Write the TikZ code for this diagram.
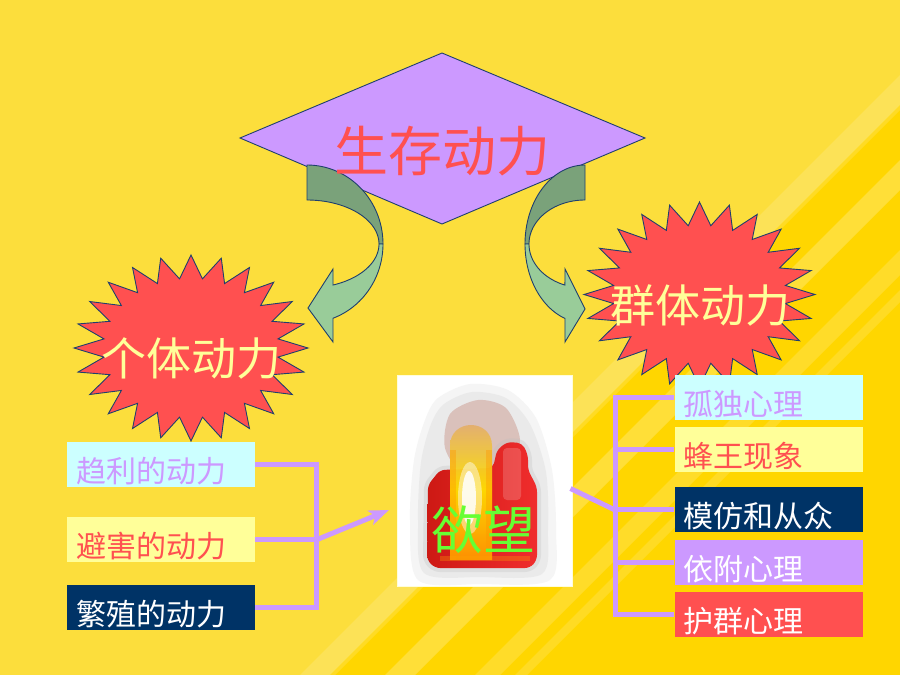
\documentclass[tikz,border=0pt]{standalone}
\usepackage{fontspec}
\newfontfamily\cjk{Noto Sans CJK SC}
\usetikzlibrary{arrows.meta,calc}
\definecolor{bgA}{RGB}{252,222,60}
\definecolor{bgB}{RGB}{255,214,0}
\definecolor{lav}{RGB}{204,153,255}
\definecolor{coral}{RGB}{255,80,80}
\definecolor{paleY}{RGB}{255,255,153}
\definecolor{paleC}{RGB}{204,255,255}
\definecolor{navy}{RGB}{0,51,102}
\definecolor{darkG}{RGB}{122,162,122}
\definecolor{lightG}{RGB}{153,204,153}
\definecolor{edge}{RGB}{31,63,110}
\definecolor{fireG}{RGB}{102,255,51}
\definecolor{redL}{RGB}{205,25,20}
\definecolor{redR}{RGB}{240,45,45}
\definecolor{smokeP}{RGB}{205,160,150}
\definecolor{tanF}{RGB}{225,170,120}
\definecolor{flameO}{RGB}{255,150,0}
\definecolor{flameY}{RGB}{255,225,0}
\begin{document}
\begin{tikzpicture}[x=1pt,y=-1pt,
  outl/.style={draw=edge,line width=0.9pt,line join=miter},
  box/.style={rectangle, minimum width=188pt, minimum height=45pt, inner xsep=9pt, inner ysep=0pt,
    text width=170pt, align=left, font=\cjk\fontsize{30}{30}\selectfont, text height=37pt, text depth=2pt},
  conn/.style={draw=lav, line width=5pt},
  starlabel/.style={font=\cjk\fontsize{45}{45}\selectfont, text=paleY}]
\useasboundingbox (0,0) rectangle (900,675);
% background
\fill[bgA] (0,0) rectangle (900,675);
\fill[bgB] (330,675) -- (900,105) -- (900,675) -- cycle;
\fill[white,opacity=0.14] (975,0) -- (1010,0) -- (335,675) -- (300,675) -- cycle;
\fill[white,opacity=0.22] (1060,0) -- (1090,0) -- (415,675) -- (385,675) -- cycle;
\fill[white,opacity=0.16] (1150,0) -- (1175,0) -- (500,675) -- (475,675) -- cycle;
\fill[white,opacity=0.14] (1190,0) -- (1202,0) -- (527,675) -- (515,675) -- cycle;
% diamond
\draw[outl, fill=lav] (442,53) -- (645,138) -- (442,224) -- (240,138) -- cycle;
% left curved arrow
\draw[outl, fill=darkG] plot[domain=-90:0, samples=40] ({307+76*cos(\x)},{244+79*sin(\x)})
  -- plot[domain=0:-90, samples=40] ({307+72*cos(\x)},{244+44*sin(\x)}) -- cycle;
\draw[outl, fill=lightG] plot[domain=0:70, samples=40] ({307+76*cos(\x)},{244+79*sin(\x)})
  -- (333,342) -- (308,308) -- (333,269)
  -- plot[domain=68.8:0, samples=40] ({307+72*cos(\x)},{244+44*sin(\x)}) -- cycle;
% right curved arrow
\draw[outl, fill=darkG] plot[domain=-90:0, samples=40] ({585-60*cos(\x)},{244+79*sin(\x)})
  -- plot[domain=0:-90, samples=40] ({585-56*cos(\x)},{244+44*sin(\x)}) -- cycle;
\draw[outl, fill=lightG] plot[domain=0:70.5, samples=40] ({585-60*cos(\x)},{244+79*sin(\x)})
  -- (565,342) -- (585,309) -- (565,269)
  -- plot[domain=69:0, samples=40] ({585-56*cos(\x)},{244+44*sin(\x)}) -- cycle;
\node[font=\cjk\fontsize{54}{54}\selectfont, text=coral] (top) at (442,151) {生存动力};
% stars
\draw[outl, fill=coral] plot[samples at={0,...,47}, variable=\k]
  ({191+117*(1-0.25*mod(\k,2))*cos(90+7.5*\k)},{348-93*(1-0.25*mod(\k,2))*sin(90+7.5*\k)}) -- cycle;
\node[starlabel] (indiv) at (191,358) {个体动力};
\draw[outl, fill=coral] plot[samples at={0,...,47}, variable=\k]
  ({699.5+115.5*(1-0.25*mod(\k,2))*cos(90+7.5*\k)},{294.5-92.5*(1-0.25*mod(\k,2))*sin(90+7.5*\k)}) -- cycle;
\node[starlabel] (group) at (700,305) {群体动力};
% fire picture
\node[fill=white, draw=white!85!yellow, line width=1pt, minimum width=175pt, minimum height=211pt, inner sep=0pt] (fire) at (484.5,480.5) {};
\begin{scope}
\clip (398,376) rectangle (571,585);
% fuzzy smoke halo
\fill[gray!35, opacity=0.22] plot[smooth cycle] coordinates {(438,398) (470,384) (508,390) (536,418) (552,470) (556,530) (550,580) (480,584) (418,580) (410,520) (414,460) (425,420)};
\fill[gray!40, opacity=0.25] plot[smooth cycle] coordinates {(444,404) (472,392) (506,398) (530,424) (546,472) (548,530) (542,574) (480,577) (424,573) (418,520) (421,462) (431,424)};
\fill[smokeP, opacity=0.55] plot[smooth cycle] coordinates {(450,414) (478,400) (506,408) (520,440) (508,468) (465,474) (445,448)};
% red body
\draw[gray!50, opacity=0.3, line width=8pt, rounded corners=5pt] (428,485) -- (440,470) -- (493,468) -- (497,450) -- (507,442) -- (522,443) -- (528,455) -- (528,470) -- (537,487) -- (537,560) -- (530,568) -- (435,568) -- (427,560) -- cycle;
\shade[left color=redL, right color=redR, rounded corners=5pt] (428,485) -- (440,470) -- (493,468) -- (497,450) -- (507,442) -- (522,443) -- (528,455) -- (528,470) -- (537,487) -- (537,560) -- (530,568) -- (435,568) -- (427,560) -- cycle;
\fill[white, opacity=0.18, rounded corners=4pt] (503,448) rectangle (521,500);
% flame column
\shade[top color=tanF, bottom color=flameO, middle color=flameY, opacity=0.95] (450,560) -- (450,446) .. controls (450,418) and (492,418) .. (492,446) -- (492,560) -- cycle;
\fill[flameO, opacity=0.4] (450,450) rectangle (456,560);
\fill[flameO, opacity=0.4] (486,450) rectangle (492,560);
\fill[white, opacity=0.45] (470,498) ellipse [x radius=12, y radius=36];
\fill[white, opacity=0.85] (469,498) ellipse [x radius=7, y radius=27];
\fill[orange!70!yellow, opacity=0.3] (440,556) rectangle (530,561);
\end{scope}
\node[font=\cjk\fontsize{52}{52}\selectfont, text=fireG] (want) at (483,530) {欲望};
% left boxes
\node[box, fill=paleC, text=lav] (l1) at (161,464.5) {趋利的动力};
\node[box, fill=paleY, text=coral] (l2) at (161,539.5) {避害的动力};
\node[box, fill=navy, text=white] (l3) at (161,607.5) {繁殖的动力};
% right boxes
\node[box, fill=paleC, text=lav] (r1) at (768.5,397.5) {孤独心理};
\node[box, fill=paleY, text=coral] (r2) at (768.5,449.5) {蜂王现象};
\node[box, fill=navy, text=white] (r3) at (768.5,509.5) {模仿和从众};
\node[box, fill=lav, text=white] (r4) at (768.5,562.5) {依附心理};
\node[box, fill=coral, text=white] (r5) at (768.5,614.5) {护群心理};
% connectors left
\coordinate (lj) at (316,540);
\coordinate (ftip) at (389,510);
\draw[conn] (l1.east) -| (lj);
\draw[conn] (l3.east) -| (lj);
\draw[conn] (l2.east) -- (l2.east -| lj);
\draw[conn, -{Stealth[length=20pt,width=15pt,inset=5pt]}] (lj) -- (ftip);
% connectors right
\coordinate (rj) at (615,510);
\draw[conn] (r1.west) -| (rj);
\draw[conn] (r5.west) -| (rj);
\draw[conn] (r2.west) -- (r2.west -| rj);
\draw[conn] (r3.west) -- (r3.west -| rj);
\draw[conn] (r4.west) -- (r4.west -| rj);
\draw[conn] ($(fire.east)+(-2,8)$) -- (rj);
\end{tikzpicture}
\end{document}
